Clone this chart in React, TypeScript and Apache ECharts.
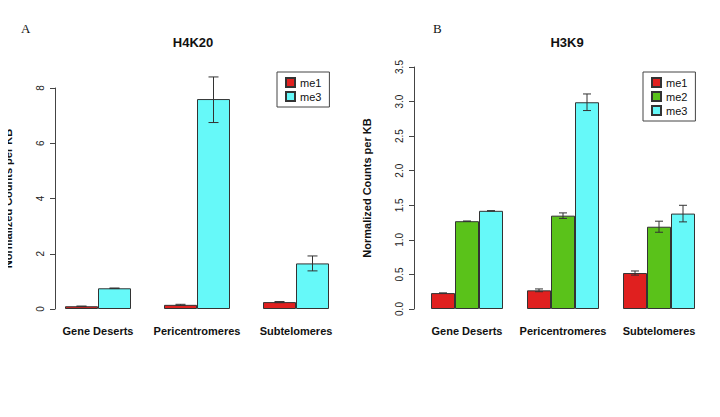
import { useEffect, useRef } from "react";
import * as echarts from "echarts";

const categories = ["Gene Deserts", "Pericentromeres", "Subtelomeres"];

// H4K20
const h4me1 = [0.1, 0.15, 0.25];
const h4me3 = [0.75, 7.6, 1.65];
const h4me1Err = [[0.1, 0.1], [0.13, 0.17], [0.23, 0.27]];
const h4me3Err = [[0.74, 0.76], [6.75, 8.4], [1.38, 1.92]];
const h4Ticks = [0, 2, 4, 6, 8];

// H3K9
const h3me1 = [0.23, 0.27, 0.52];
const h3me2 = [1.27, 1.35, 1.19];
const h3me3 = [1.42, 2.99, 1.38];
const h3me1Err = [[0.23, 0.23], [0.25, 0.29], [0.49, 0.55]];
const h3me2Err = [[1.27, 1.27], [1.31, 1.39], [1.11, 1.27]];
const h3me3Err = [[1.42, 1.42], [2.87, 3.11], [1.26, 1.5]];
const h3Ticks = [0, 0.5, 1, 1.5, 2, 2.5, 3, 3.5];

const RED = "#e0201f";
const GREEN = "#5ac21a";
const CYAN = "#66f9f9";
const FONT = "Liberation Sans, Arial, sans-serif";

function errSeries(err: number[][], idx: number, shift: number, cap: number) {
  return {
    type: "custom",
    xAxisIndex: idx,
    yAxisIndex: idx,
    clip: false,
    z: 10,
    data: err.map((e, i) => [i, e[0], e[1]]),
    renderItem: (_p: any, api: any) => {
      const lo = api.coord([api.value(0), api.value(1)]);
      const hi = api.coord([api.value(0), api.value(2)]);
      const x = lo[0] + shift;
      const st = { stroke: "#333", lineWidth: 1 };
      return {
        type: "group",
        children: [
          { type: "line", shape: { x1: x, y1: lo[1], x2: x, y2: hi[1] }, style: st },
          { type: "line", shape: { x1: x - cap, y1: lo[1], x2: x + cap, y2: lo[1] }, style: st },
          { type: "line", shape: { x1: x - cap, y1: hi[1], x2: x + cap, y2: hi[1] }, style: st },
        ],
      };
    },
  };
}

function bar(name: string, data: number[], color: string, idx: number, w: number) {
  return {
    name,
    type: "bar",
    xAxisIndex: idx,
    yAxisIndex: idx,
    data,
    barWidth: w,
    barGap: "0%",
    itemStyle: { color, borderColor: "#333", borderWidth: 1 },
  };
}

export default function App() {
  const ref = useRef<HTMLDivElement | null>(null);

  useEffect(() => {
    if (!ref.current) return;
    const chart = echarts.init(ref.current, null, { renderer: "svg" });

    const xAxis = (gridIndex: number) => ({
      type: "category",
      gridIndex,
      data: categories,
      axisLine: { show: false },
      axisTick: { show: false },
      axisLabel: { interval: 0, fontFamily: FONT, fontWeight: "bold", fontSize: 11, color: "#111", margin: 16 },
    });
    const yAxis = (gridIndex: number, ticks: number[], offset: number, digits: number) => ({
      type: "value",
      gridIndex,
      min: ticks[0],
      max: ticks[ticks.length - 1],
      interval: ticks[1] - ticks[0],
      offset,
      name: "Normalized Counts per KB",
      nameLocation: "middle",
      nameGap: 42,
      nameTruncate: { maxWidth: 400 },
      nameTextStyle: { fontFamily: FONT, fontWeight: "bold", fontSize: 11, color: "#111", width: 300, overflow: "none" },
      axisLine: { show: true, lineStyle: { color: "#444" } },
      axisTick: { show: true, length: 5, lineStyle: { color: "#444" } },
      splitLine: { show: false },
      axisLabel: {
        rotate: 90,
        fontFamily: FONT,
        fontSize: 10,
        color: "#222",
        margin: 10,
        formatter: (v: number) => v.toFixed(digits),
      },
    });
    const legend = (data: string[], right: number, height: number) => ({
      data,
      icon: "rect",
      orient: "vertical",
      left: 720 - right - 55,
      top: 72,
      width: 55,
      height,
      padding: [5, 8, 5, 8],
      itemGap: 3,
      itemWidth: 9,
      itemHeight: 9,
      borderColor: "#444",
      borderWidth: 1,
      textStyle: { fontFamily: FONT, fontSize: 11, color: "#111" },
      selectedMode: false,
    });

    chart.setOption({
      animation: false,
      backgroundColor: "#fff",
      title: [
        { text: "H4K20", left: 188, top: 31, textAlign: "center", textStyle: { fontFamily: FONT, fontSize: 13, fontWeight: "bold", color: "#111" } },
        { text: "H3K9", left: 562, top: 31, textAlign: "center", textStyle: { fontFamily: FONT, fontSize: 13, fontWeight: "bold", color: "#111" } },
        { text: "A", left: 16, top: 17, textStyle: { fontFamily: "Liberation Serif, serif", fontSize: 13, fontWeight: "normal", color: "#111" } },
        { text: "B", left: 428, top: 17, textStyle: { fontFamily: "Liberation Serif, serif", fontSize: 13, fontWeight: "normal", color: "#111" } },
      ],
      legend: [legend(["me1", "me3"], 388, 30), legend(["me1", "me2", "me3"], 22, 44)],
      grid: [
        { left: 48.5, width: 297, top: 88, height: 221 },
        { left: 419, width: 288, top: 67, height: 242 },
      ],
      xAxis: [xAxis(0), xAxis(1)],
      yAxis: [yAxis(0, h4Ticks, -6.5, 0), yAxis(1, h3Ticks, 5, 1)],
      series: [
        bar("me1", h4me1, RED, 0, 33),
        bar("me3", h4me3, CYAN, 0, 33),
        bar("me1", h3me1, RED, 1, 24),
        bar("me2", h3me2, GREEN, 1, 24),
        bar("me3", h3me3, CYAN, 1, 24),
        errSeries(h4me1Err, 0, -16.5, 5),
        errSeries(h4me3Err, 0, 16.5, 5),
        errSeries(h3me1Err, 1, -24, 4),
        errSeries(h3me2Err, 1, 0, 4),
        errSeries(h3me3Err, 1, 24, 4),
      ],
    });

    return () => chart.dispose();
  }, []);

  return <div ref={ref} style={{ width: 720, height: 417, margin: -8 }} />;
}
